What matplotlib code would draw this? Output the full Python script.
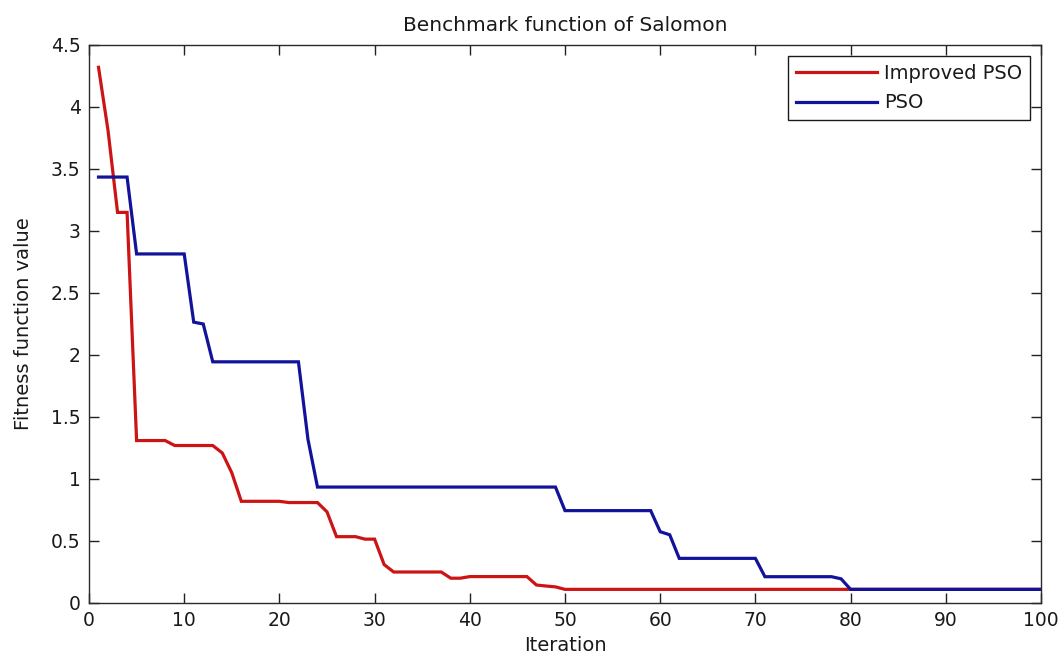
import matplotlib
matplotlib.use("Agg")
import matplotlib.pyplot as plt

# Iterations where each best-fitness curve changes, with the value reached there
improved_iter = [1, 2, 3, 4, 5, 8, 9, 13, 14, 15, 16, 20, 21, 24, 25, 26, 28, 29,
                 30, 31, 32, 37, 38, 39, 40, 46, 47, 48, 49, 50, 100]
improved_val = [4.32, 3.81, 3.15, 3.15, 1.31, 1.31, 1.27, 1.27, 1.21, 1.05, 0.82,
                0.82, 0.81, 0.81, 0.735, 0.535, 0.535, 0.515, 0.515, 0.31, 0.25,
                0.25, 0.20, 0.20, 0.213, 0.213, 0.145, 0.137, 0.13, 0.11, 0.11]

pso_iter = [1, 4, 5, 10, 11, 12, 13, 22, 23, 24, 49, 50, 59, 60, 61, 62, 70, 71,
            78, 79, 80, 100]
pso_val = [3.435, 3.435, 2.815, 2.815, 2.265, 2.25, 1.945, 1.945, 1.32, 0.935,
           0.935, 0.745, 0.745, 0.575, 0.55, 0.36, 0.36, 0.212, 0.212, 0.195,
           0.11, 0.11]

series_labels = ["Improved PSO", "PSO"]
x_ticks = [0, 10, 20, 30, 40, 50, 60, 70, 80, 90, 100]
y_ticks = [0, 0.5, 1, 1.5, 2, 2.5, 3, 3.5, 4, 4.5]
y_tick_labels = ["0", "0.5", "1", "1.5", "2", "2.5", "3", "3.5", "4", "4.5"]

plt.rcParams["font.family"] = ["DejaVu Sans"]

fig = plt.figure(figsize=(10.63, 6.63), dpi=100, facecolor="white")
ax = fig.add_axes([89 / 1063, 1 - 603 / 663, (1041 - 89) / 1063, (603 - 45) / 663])

ax.plot(improved_iter, improved_val, color="#cc1414", lw=2.3,
        label=series_labels[0], solid_joinstyle="miter")
ax.plot(pso_iter, pso_val, color="#12129a", lw=2.3,
        label=series_labels[1], solid_joinstyle="miter")

ax.set_xlim(0, 100)
ax.set_ylim(0, 4.5)
ax.set_xticks(x_ticks)
ax.set_xticklabels([str(t) for t in x_ticks])
ax.set_yticks(y_ticks)
ax.set_yticklabels(y_tick_labels)

ax.tick_params(direction="in", length=7, width=1.0, color="#222222",
               top=True, right=True, labelsize=13.5, labelcolor="#1a1a1a", pad=6)
for s in ax.spines.values():
    s.set_color("#2a2a2a")
    s.set_linewidth(1.0)

ax.set_title("Benchmark function of Salomon", fontsize=14.5, color="#1a1a1a", pad=10)
ax.set_xlabel("Iteration", fontsize=14, color="#1a1a1a", labelpad=4)
ax.set_ylabel("Fitness function value", fontsize=14, color="#1a1a1a",
              va="center")
ax.yaxis.set_label_coords(-0.069, 0.5)

leg = ax.legend(loc="upper right", bbox_to_anchor=(0.9884, 0.9803),
                borderaxespad=0, fontsize=14, handlelength=4.2,
                handletextpad=0.35, borderpad=0.4, labelspacing=0.55,
                fancybox=False, framealpha=1, edgecolor="#1a1a1a")
leg.get_frame().set_linewidth(1.0)
for t in leg.get_texts():
    t.set_color("#1a1a1a")

fig.savefig("out.png", dpi=100, facecolor="white")
